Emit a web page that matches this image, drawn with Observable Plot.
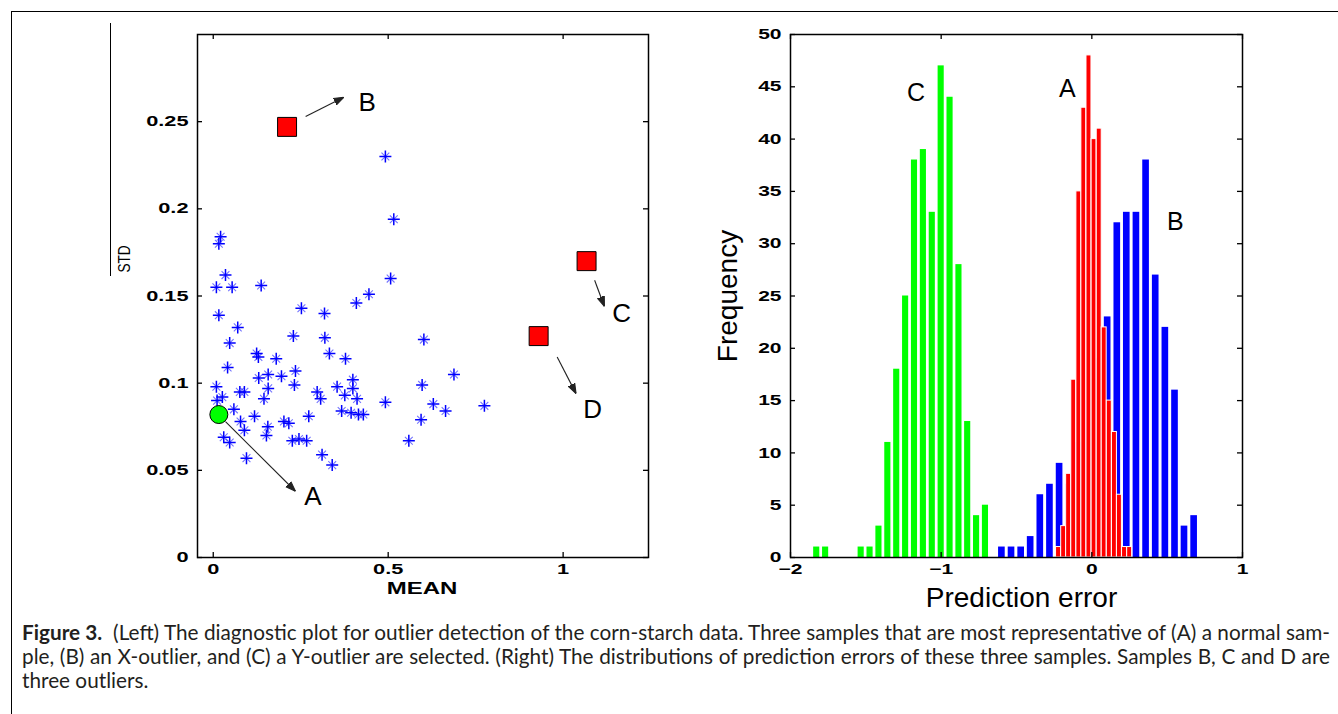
<!DOCTYPE html>
<html><head><meta charset="utf-8">
<script src="https://cdn.jsdelivr.net/npm/d3@7"></script>
<script src="https://cdn.jsdelivr.net/npm/@observablehq/plot@0.6"></script>
<style>
html,body{margin:0;padding:0;background:#fff;width:1338px;height:714px;overflow:hidden;position:relative;}
#border{position:absolute;left:11px;top:11px;width:1400px;height:800px;border-left:1px solid #000;border-top:1px solid #000;}
#stdline{position:absolute;left:110px;top:23px;width:1px;height:253px;background:#000;}
#left{position:absolute;left:90px;top:0;}
#right{position:absolute;left:690px;top:0;}
#caption{position:absolute;left:22px;top:620px;width:1308px;font-family:Lato,"Open Sans",sans-serif;font-size:21px;line-height:24px;color:#231f20;}
#caption .j{text-align:justify;text-align-last:justify;}
#caption b{font-weight:bold;}
</style></head><body>
<div id="border"></div>
<div id="stdline"></div>
<div id="left"></div>
<div id="right"></div>
<div id="caption">
<div class="j"><b>Figure 3.</b>&nbsp; (Left) The diagnostic plot for outlier detection of the corn-starch data. Three samples that are most representative of (A) a normal sam-</div>
<div class="j">ple, (B) an X-outlier, and (C) a Y-outlier are selected. (Right) The distributions of prediction errors of these three samples. Samples B, C and D are</div>
<div>three outliers.</div>
</div>
<script>
// ---------- Left panel data: diagnostic plot (MEAN vs STD) ----------
const starMean = [0.492,0.516,0.021,0.016,0.035,0.009,0.054,0.137,0.507,0.445,0.409,0.252,0.318,0.016,0.070,0.047,0.229,0.319,0.602,0.124,0.129,0.180,0.332,0.378,0.041,0.235,0.130,0.157,0.195,0.688,0.009,0.076,0.089,0.157,0.232,0.297,0.307,0.354,0.399,0.399,0.376,0.411,0.597,0.492,0.629,0.664,0.775,0.011,0.026,0.059,0.145,0.367,0.394,0.415,0.429,0.118,0.078,0.202,0.216,0.273,0.594,0.156,0.089,0.152,0.030,0.047,0.226,0.245,0.267,0.559,0.095,0.311,0.340];
const starStd = [0.230,0.194,0.184,0.180,0.162,0.155,0.155,0.156,0.160,0.151,0.146,0.143,0.140,0.139,0.132,0.123,0.127,0.126,0.125,0.117,0.115,0.114,0.117,0.114,0.109,0.107,0.103,0.105,0.104,0.105,0.098,0.095,0.095,0.097,0.099,0.095,0.091,0.098,0.102,0.097,0.093,0.091,0.099,0.089,0.088,0.084,0.087,0.090,0.092,0.085,0.091,0.084,0.083,0.082,0.082,0.081,0.078,0.078,0.077,0.081,0.079,0.075,0.073,0.070,0.069,0.066,0.067,0.068,0.067,0.067,0.057,0.059,0.053];
const outlierNames = ["B","C","D"];
const outlierMean = [0.211, 1.067, 0.930];
const outlierStd = [0.247, 0.170, 0.127];
const normalName = ["A"];
const normalMean = [0.016];
const normalStd = [0.082];
// annotations (data units)
const annLabels = ["A","B","C","D"];
const annFromMean = [0.035, 0.264, 1.090, 0.983];
const annFromStd = [0.078, 0.253, 0.159, 0.115];
const annToMean = [0.235, 0.373, 1.118, 1.037];
const annToStd = [0.038, 0.264, 0.144, 0.094];
const annTextMean = [0.285, 0.440, 1.167, 1.084];
const annTextStd = [0.035, 0.261, 0.140, 0.085];
const leftXTicks = [0, 0.5, 1];
const leftXTickLabels = ["0", "0.5", "1"];
const leftYTicks = [0, 0.05, 0.1, 0.15, 0.2, 0.25];
const leftYTickLabels = ["0", "0.05", "0.1", "0.15", "0.2", "0.25"];

// ---------- Right panel data: histograms of prediction errors ----------
const binCentersC = [-1.826,-1.767,-1.531,-1.472,-1.413,-1.354,-1.295,-1.236,-1.177,-1.118,-1.059,-1.000,-0.941,-0.882,-0.824,-0.765,-0.706];
const countsC = [1,1,1,1,3,11,18,25,38,39,33,47,44,28,13,4,5];
const binCentersB = [-0.597,-0.533,-0.469,-0.406,-0.342,-0.278,-0.214,-0.150,-0.087,-0.023,0.041,0.105,0.169,0.232,0.296,0.360,0.424,0.488,0.552,0.615,0.679];
const countsB = [1,1,1,2,6,7,9,7,11,15,19,23,32,33,33,38,27,22,16,3,4];
const binCentersA = [-0.221,-0.187,-0.154,-0.120,-0.086,-0.053,-0.019,0.015,0.049,0.082,0.116,0.150,0.183,0.217,0.251];
const countsA = [1,3,8,17,35,43,48,40,41,22,15,12,6,1,1];
const histLabels = ["C","A","B"];
const histLabelX = [-1.166, -0.163, 0.555];
const histLabelY = [44.4, 44.8, 32.1];
const rightXTicks = [-2, -1, 0, 1];
const rightXTickLabels = ["\u22122", "\u22121", "0", "1"];
const rightYTicks = [0, 5, 10, 15, 20, 25, 30, 35, 40, 45, 50];
const rightYTickLabels = ["0","5","10","15","20","25","30","35","40","45","50"];

// ---------- helpers ----------
const zip2 = (a, b) => a.map((v, i) => ({x: v, y: b[i]}));
const plusSymbol = {
  draw(context, size) {
    const r = Math.sqrt(size / Math.PI);
    context.moveTo(-r, 0); context.lineTo(r, 0);
    context.moveTo(0, -r); context.lineTo(0, r);
  }
};
const crossSymbol = {
  draw(context, size) {
    const d = Math.sqrt(size / Math.PI) * 0.7;
    context.moveTo(-d, -d); context.lineTo(d, d);
    context.moveTo(-d, d); context.lineTo(d, -d);
  }
};
function filledArrow(color, context) {
  const doc = (context && context.document) || document;
  const ns = "http://www.w3.org/2000/svg";
  const m = doc.createElementNS(ns, "marker");
  m.setAttribute("viewBox", "-10 -5 10 10");
  m.setAttribute("markerWidth", 10);
  m.setAttribute("markerHeight", 10);
  m.setAttribute("markerUnits", "userSpaceOnUse");
  m.setAttribute("orient", "auto");
  const p = doc.createElementNS(ns, "path");
  p.setAttribute("d", "M-10,-3.6L0,0L-10,3.6Z");
  p.setAttribute("fill", color);
  m.appendChild(p);
  return m;
}
function stretchTexts(svg, contents, sx) {
  svg.querySelectorAll("text").forEach(t => {
    if (contents.includes(t.textContent)) {
      t.setAttribute("transform", (t.getAttribute("transform") || "") + ` scale(${sx},1)`);
    }
  });
}
const tickLen = 5;
const fontStack = "'Liberation Sans', Arial, Helvetica, sans-serif";

// ---------- Left plot ----------
const WL = 580, HL = 610, mL = {top: 34, right: 22, bottom: 53, left: 107};
const fwL = WL - mL.left - mL.right, fhL = HL - mL.top - mL.bottom;
const stars = zip2(starMean, starStd);
const outliers = outlierMean.map((m, i) => ({x: m, y: outlierStd[i], name: outlierNames[i]}));
const normals = normalMean.map((m, i) => ({x: m, y: normalStd[i], name: normalName[i]}));
const anns = annLabels.map((l, i) => ({l, x1: annFromMean[i], y1: annFromStd[i], x2: annToMean[i], y2: annToStd[i], tx: annTextMean[i], ty: annTextStd[i]}));

let arrowMark;
try {
  arrowMark = Plot.link(anns, {x1: "x1", y1: "y1", x2: "x2", y2: "y2", stroke: "#222", strokeWidth: 1.1, markerEnd: filledArrow});
} catch (e) {
  arrowMark = Plot.arrow(anns, {x1: "x1", y1: "y1", x2: "x2", y2: "y2", stroke: "#222", strokeWidth: 1.2, headLength: 9});
}

const leftSvg = Plot.plot({
  width: WL, height: HL,
  marginTop: mL.top, marginRight: mL.right, marginBottom: mL.bottom, marginLeft: mL.left,
  x: {domain: [-0.045, 1.244]},
  y: {domain: [0, 0.3]},
  style: {fontFamily: fontStack, fontSize: "14.5px", color: "#000", background: "transparent", overflow: "visible"},
  marks: [
    Plot.dot(stars, {x: "x", y: "y", symbol: crossSymbol, r: 5.6, stroke: "#0000ff", strokeOpacity: 0.55, strokeWidth: 1.1, fill: "none"}),
    Plot.dot(stars, {x: "x", y: "y", symbol: plusSymbol, r: 6, stroke: "#0000ff", strokeWidth: 1.5, fill: "none"}),
    Plot.dot(normals, {x: "x", y: "y", r: 9, fill: "#00ff00", stroke: "#000", strokeWidth: 1}),
    Plot.dot(outliers, {x: "x", y: "y", symbol: "square", r: 10.7, fill: "#ff0000", stroke: "#000", strokeWidth: 1}),
    arrowMark,
    Plot.text(anns, {x: "tx", y: "ty", text: "l", fontSize: 26, fontWeight: "normal", fill: "#000", lineAnchor: "middle", textAnchor: "middle"}),
    Plot.tickY(leftYTicks, {y: d => d, insetRight: fwL - tickLen, stroke: "#000", strokeWidth: 1.3}),
    Plot.tickY(leftYTicks, {y: d => d, insetLeft: fwL - tickLen, stroke: "#000", strokeWidth: 1.3}),
    Plot.tickX(leftXTicks, {x: d => d, insetTop: fhL - tickLen, stroke: "#000", strokeWidth: 1.3}),
    Plot.tickX(leftXTicks, {x: d => d, insetBottom: fhL - tickLen, stroke: "#000", strokeWidth: 1.3}),
    Plot.frame({stroke: "#000", strokeWidth: 1.5}),
    Plot.axisY(leftYTicks, {tickSize: 0, tickPadding: 9, label: null, fontWeight: "bold", tickFormat: d => leftYTickLabels[leftYTicks.indexOf(d)]}),
    Plot.axisX(leftXTicks, {tickSize: 0, tickPadding: 6, label: null, fontWeight: "bold", tickFormat: d => leftXTickLabels[leftXTicks.indexOf(d)]}),
    Plot.text(["MEAN"], {frameAnchor: "bottom", dy: 31, dx: -1, fontSize: 16, fontWeight: "bold", lineAnchor: "middle"}),
    Plot.text(["STD"], {frameAnchor: "left", dx: -73, dy: -37, rotate: -90, fontSize: 16, fontWeight: "normal", lineAnchor: "middle", textAnchor: "middle"})
  ]
});
stretchTexts(leftSvg, [...leftYTickLabels, ...leftXTickLabels, "MEAN"], 1.5);
stretchTexts(leftSvg, ["STD"], 0.85);
document.getElementById("left").appendChild(leftSvg);

// ---------- Right plot ----------
const WR = 580, HR = 620, mR = {top: 34, right: 28, bottom: 63, left: 100};
const fwR = WR - mR.left - mR.right, fhR = HR - mR.top - mR.bottom;
const binW = xs => d3.min(d3.pairs(xs, (a, b) => b - a));
const wC = binW(binCentersC), wB = binW(binCentersB), wA = binW(binCentersA);
const histC = zip2(binCentersC, countsC);
const histB = zip2(binCentersB, countsB);
const histA = zip2(binCentersA, countsA);
const labelsR = histLabels.map((l, i) => ({l, x: histLabelX[i], y: histLabelY[i]}));

const rightSvg = Plot.plot({
  width: WR, height: HR,
  marginTop: mR.top, marginRight: mR.right, marginBottom: mR.bottom, marginLeft: mR.left,
  x: {domain: [-2, 1]},
  y: {domain: [0, 50]},
  style: {fontFamily: fontStack, fontSize: "14.5px", color: "#000", background: "transparent", overflow: "visible"},
  marks: [
    Plot.rect(histC, {x1: d => d.x - wC * 0.35, x2: d => d.x + wC * 0.35, y1: 0, y2: "y", fill: "#00ff00"}),
    Plot.rect(histB, {x1: d => d.x - wB * 0.35, x2: d => d.x + wB * 0.35, y1: 0, y2: "y", fill: "#0000ff"}),
    Plot.rect(histA, {x1: d => d.x - wA * 0.5, x2: d => d.x + wA * 0.5, y1: 0, y2: "y", fill: "#ff0000", stroke: "#fff", strokeWidth: 1}),
    Plot.text(labelsR, {x: "x", y: "y", text: "l", fontSize: 25, fontWeight: "normal", fill: "#000", lineAnchor: "middle", textAnchor: "middle"}),
    Plot.tickY(rightYTicks, {y: d => d, insetRight: fwR - tickLen, stroke: "#000", strokeWidth: 1.3}),
    Plot.tickY(rightYTicks, {y: d => d, insetLeft: fwR - tickLen, stroke: "#000", strokeWidth: 1.3}),
    Plot.tickX(rightXTicks, {x: d => d, insetTop: fhR - tickLen, stroke: "#000", strokeWidth: 1.3}),
    Plot.tickX(rightXTicks, {x: d => d, insetBottom: fhR - tickLen, stroke: "#000", strokeWidth: 1.3}),
    Plot.frame({stroke: "#000", strokeWidth: 1.5}),
    Plot.axisY(rightYTicks, {tickSize: 0, tickPadding: 9, label: null, fontWeight: "bold", tickFormat: d => rightYTickLabels[rightYTicks.indexOf(d)]}),
    Plot.axisX(rightXTicks, {tickSize: 0, tickPadding: 6, label: null, fontWeight: "bold", tickFormat: d => rightXTickLabels[rightXTicks.indexOf(d)]}),
    Plot.text(["Prediction error"], {frameAnchor: "bottom", dy: 41, dx: 5, fontSize: 28, fontWeight: "normal", lineAnchor: "middle"}),
    Plot.text(["Frequency"], {frameAnchor: "left", dx: -62, rotate: -90, fontSize: 28, fontWeight: "normal", lineAnchor: "middle", textAnchor: "middle"})
  ]
});
stretchTexts(rightSvg, [...rightYTickLabels, ...rightXTickLabels], 1.45);
document.getElementById("right").appendChild(rightSvg);

// ---------- fit caption font so justified lines stay on one line ----------
(function fitCaption() {
  const cap = document.getElementById("caption");
  const lines = Array.from(cap.querySelectorAll(".j"));
  let fs = 21;
  const tooTall = () => lines.some(l => l.getBoundingClientRect().height > 30);
  while (fs > 12 && tooTall()) {
    fs -= 0.25;
    cap.style.fontSize = fs + "px";
  }
})();
</script>
</body></html>
